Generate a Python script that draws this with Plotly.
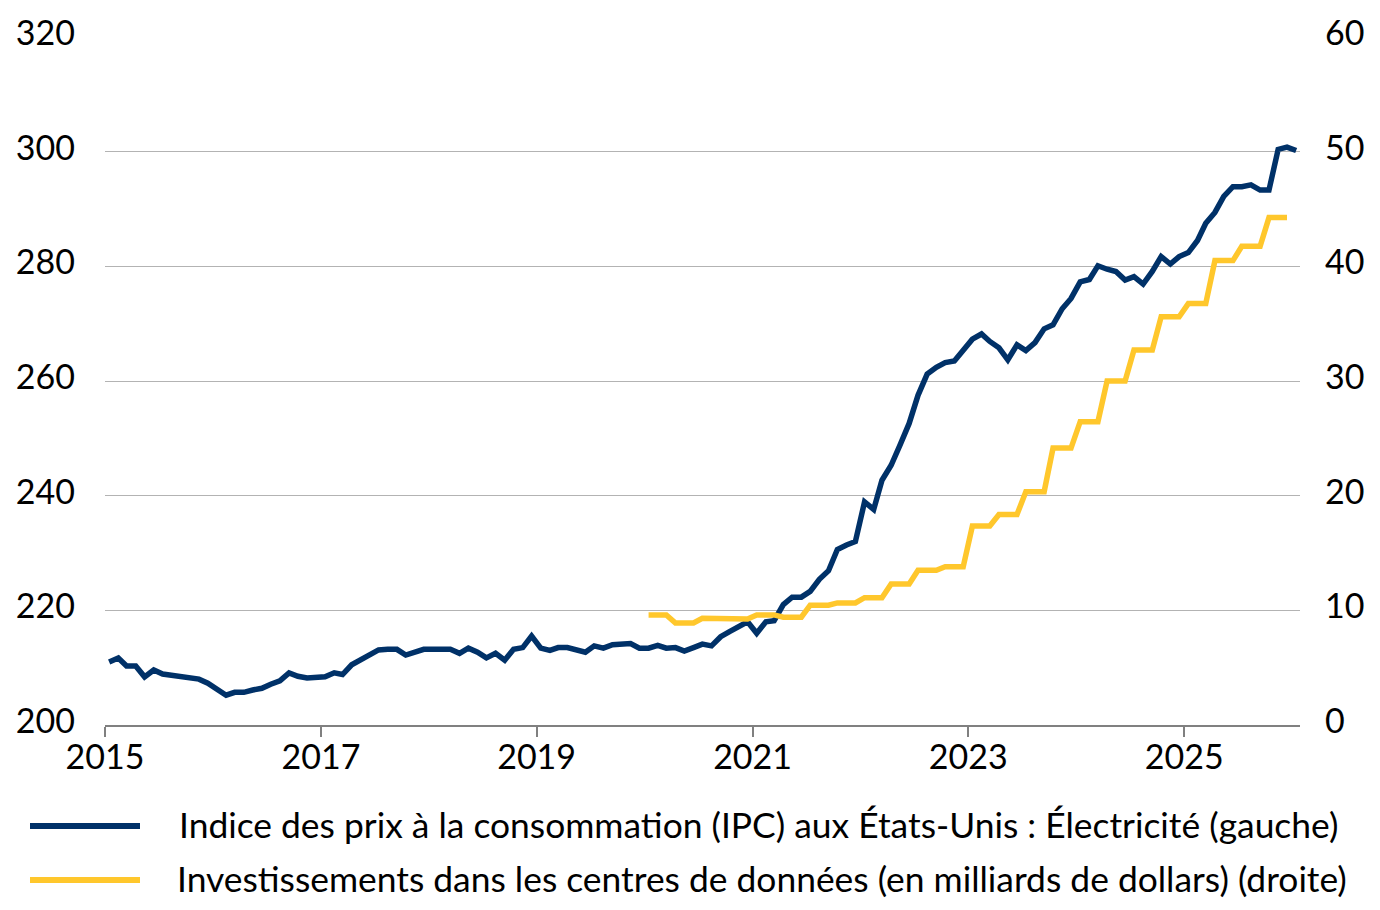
import plotly.graph_objects as go

# ---------------- data ----------------
# US CPI: Electricity, monthly, Jan 2015 - Jan 2026 (left axis)
cpi_start_year = 2015
cpi_values = [
    211.0, 211.7, 210.3, 210.3, 208.4, 209.6, 208.9, 208.7, 208.5, 208.1, 208.0, 207.3,  # 2015
    206.1, 205.2, 205.7, 205.7, 206.1, 206.4, 207.1, 207.7, 209.1, 208.5, 208.2, 208.3,  # 2016
    208.4, 209.1, 208.8, 210.5, 211.4, 212.3, 213.1, 213.2, 213.2, 212.2, 212.7, 213.2,  # 2017
    213.2, 213.2, 213.2, 212.5, 213.4, 212.7, 211.7, 212.5, 211.3, 213.2, 213.5, 215.5,  # 2018
    213.4, 213.0, 213.5, 213.5, 213.1, 212.7, 213.8, 213.4, 214.0, 214.0, 214.2, 213.4,  # 2019
    213.4, 213.9, 213.4, 213.5, 212.9, 213.5, 214.1, 213.8, 215.4, 216.3, 217.3, 218.0,  # 2020
    216.0, 218.0, 218.2, 221.0, 222.3, 222.3, 223.3, 225.4, 226.9, 230.6, 231.4, 232.0,  # 2021
    238.9, 237.6, 242.7, 245.3, 248.8, 252.6, 257.5, 261.2, 262.4, 263.2, 263.5, 265.4,  # 2022
    267.3, 268.2, 266.9, 265.8, 263.7, 266.3, 265.3, 266.7, 269.1, 269.8, 272.6, 274.4,  # 2023
    277.3, 277.7, 280.1, 279.5, 279.1, 277.6, 278.2, 276.9, 279.1, 281.7, 280.4, 281.7,  # 2024
    282.4, 284.5, 287.5, 289.4, 292.2, 293.9, 293.9, 294.2, 293.3, 293.3, 300.4, 300.8,  # 2025
    300.2,                                                                               # 2026
]

# Data-centre construction spending, bn USD, quarterly (Q1 2020 - Q4 2025), right axis
dc_start_year = 2020
dc_quarterly = [
    9.6, 8.9, 9.3, 9.25,         # 2020
    9.6, 9.4, 10.45, 10.65,      # 2021
    11.1, 12.3, 13.5, 13.8,      # 2022
    17.35, 18.35, 20.35, 24.15,  # 2023
    26.45, 30.0, 32.7, 35.6,     # 2024
    36.75, 40.5, 41.75, 44.25,   # 2025
]

year_ticks = [2015, 2017, 2019, 2021, 2023, 2025]
left_ticks = [200, 220, 240, 260, 280, 300, 320]
right_ticks = [0, 10, 20, 30, 40, 50, 60]

name_cpi = "Indice des prix à la consommation (IPC) aux États-Unis : Électricité (gauche)"
name_dc = "Investissements dans les centres de données (en milliards de dollars) (droite)"

# ---------------- build x ----------------
def month_dates(start_year, n):
    out = []
    for i in range(n):
        y = start_year + i // 12
        m = i % 12 + 1
        out.append(f"{y}-{m:02d}-15")
    return out

cpi_x = month_dates(cpi_start_year, len(cpi_values))
dc_values = [v for v in dc_quarterly for _ in range(3)]
dc_x = month_dates(dc_start_year, len(dc_values))

BLUE = "#003168"
YELLOW = "#FFC72C"
FONT = "Lato"
TICK_SIZE = 34
LEG_SIZE = 35.4

fig = go.Figure()
fig.add_trace(go.Scatter(x=cpi_x, y=cpi_values, mode="lines", name=name_cpi,
                         line=dict(color=BLUE, width=5.5), yaxis="y"))
fig.add_trace(go.Scatter(x=dc_x, y=dc_values, mode="lines", name=name_dc,
                         line=dict(color=YELLOW, width=5.5), yaxis="y2"))

fig.update_layout(
    width=1380, height=910,
    margin=dict(l=105, r=80, t=37, b=185),
    paper_bgcolor="white", plot_bgcolor="white",
    showlegend=False,
    font=dict(family=FONT, size=TICK_SIZE, color="#000000"),
    xaxis=dict(
        type="date",
        range=["2015-01-01", "2026-01-28"],
        tickvals=[f"{y}-01-01" for y in year_ticks],
        ticktext=[str(y) for y in year_ticks],
        showgrid=False, zeroline=False,
        showline=True, linecolor="#808080", linewidth=2,
        ticks="outside", ticklen=10, tickwidth=2, tickcolor="#808080",
        ticklabelstandoff=-9,
        tickfont=dict(family=FONT, size=TICK_SIZE, color="#000000"),
    ),
    yaxis=dict(
        range=[200, 320], tickvals=left_ticks,
        showgrid=True, gridcolor="#b3b3b3", gridwidth=1,
        zeroline=False, showline=False, ticks="",
        ticklabelstandoff=29, ticklabelshift=-4,
        tickfont=dict(family=FONT, size=TICK_SIZE, color="#000000"),
    ),
    yaxis2=dict(
        range=[0, 60], tickvals=right_ticks,
        overlaying="y", side="right",
        showgrid=False, zeroline=False, showline=False, ticks="",
        ticklabelstandoff=24, ticklabelshift=-4,
        tickfont=dict(family=FONT, size=TICK_SIZE, color="#000000"),
    ),
)

# manual legend (long line samples as in the reference)
def px_x(px):
    return (px - 105) / (1380 - 105 - 80)

def px_y(py):
    return (725 - py) / (725 - 37)

legend_rows = [(826, BLUE, name_cpi, 177), (880, YELLOW, name_dc, 175)]
for py, col, txt, tx in legend_rows:
    fig.add_shape(type="line", xref="paper", yref="paper",
                  x0=px_x(30), x1=px_x(140), y0=px_y(py), y1=px_y(py),
                  line=dict(color=col, width=6))
    fig.add_annotation(xref="paper", yref="paper", x=px_x(tx), y=px_y(py - 2),
                       xanchor="left", yanchor="middle", showarrow=False,
                       text=txt, font=dict(family=FONT, size=LEG_SIZE, color="#000000"))

fig.write_html("out.html")
